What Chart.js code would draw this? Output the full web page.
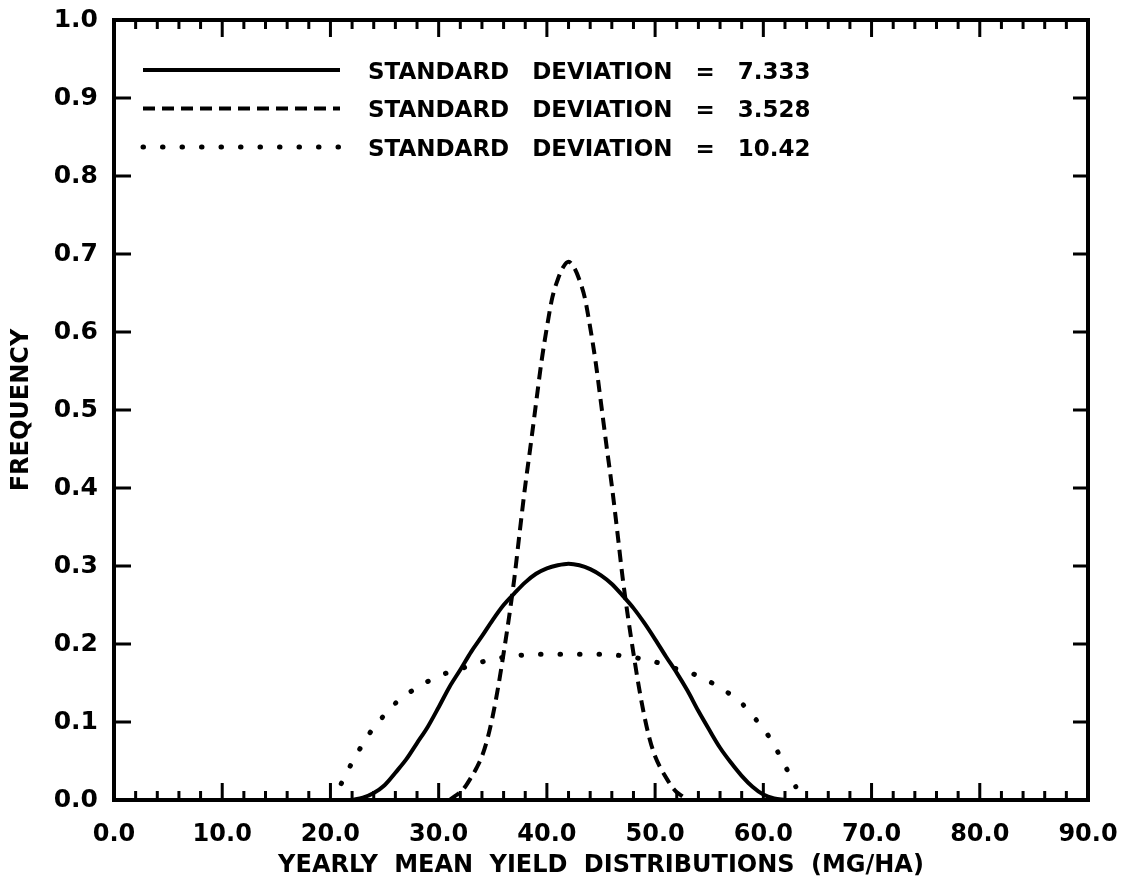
<!DOCTYPE html>
<html>
<head>
<meta charset="utf-8">
<title>Yearly mean yield distributions</title>
<script src="https://cdn.jsdelivr.net/npm/chart.js@4.4.1/dist/chart.umd.min.js"></script>
<style>
  html, body { margin: 0; padding: 0; background: #fff; }
  #wrap { width: 1126px; height: 886px; }
</style>
</head>
<body>
<div id="wrap"><canvas id="yieldChart" width="1126" height="886"></canvas></div>
<script>
// values (x = yield MG/HA, y = frequency)
const sdValues = ['7.333', '3.528', '10.42'];

const solidX = [22, 23, 24, 25, 26, 27, 28, 29, 30, 31, 32, 33, 34, 35, 36, 37, 38, 39, 40, 41,
  42, 43, 44, 45, 46, 47, 48, 49, 50, 51, 52, 53, 54, 55, 56, 57, 58, 59, 60, 61, 62];
const solidY = [0.000, 0.003, 0.009, 0.019, 0.035, 0.052, 0.073, 0.094, 0.119, 0.145, 0.167,
  0.190, 0.210, 0.231, 0.250, 0.265, 0.279, 0.290, 0.297, 0.301, 0.303, 0.301, 0.296, 0.288,
  0.277, 0.262, 0.246, 0.227, 0.206, 0.184, 0.163, 0.140, 0.114, 0.090, 0.067, 0.048, 0.031,
  0.017, 0.007, 0.002, 0.000];

const dashedX = [31, 31.5, 32, 32.5, 33, 33.5, 34, 34.5, 35, 35.5, 36, 36.5, 37, 37.5, 38, 38.5,
  39, 39.5, 40, 40.5, 41, 41.5, 42, 42.5, 43, 43.5, 44, 44.5, 45, 45.5, 46, 46.5, 47, 47.5, 48,
  48.5, 49, 49.5, 50, 50.5, 51, 51.5, 52, 52.5, 53];
const dashedY = [0.000, 0.005, 0.010, 0.018, 0.029, 0.041, 0.056, 0.078, 0.108, 0.145, 0.188,
  0.234, 0.285, 0.345, 0.403, 0.455, 0.509, 0.562, 0.606, 0.644, 0.667, 0.683, 0.690, 0.683,
  0.667, 0.644, 0.606, 0.562, 0.509, 0.455, 0.403, 0.345, 0.285, 0.234, 0.188, 0.145, 0.108,
  0.078, 0.056, 0.041, 0.029, 0.018, 0.010, 0.005, 0.000];

const dottedX = [21, 22, 23, 24, 25, 26, 27, 28, 29, 30, 31, 32, 33, 34, 35, 36, 37, 38, 39, 40,
  41, 42, 43, 44, 45, 46, 47, 48, 49, 50, 51, 52, 53, 54, 55, 56, 57, 58, 59, 60, 61, 62, 63];
const dottedY = [0.021, 0.048, 0.072, 0.093, 0.109, 0.124, 0.135, 0.144, 0.152, 0.159, 0.164,
  0.168, 0.173, 0.177, 0.180, 0.183, 0.185, 0.186, 0.187, 0.187, 0.187, 0.187, 0.187, 0.187,
  0.187, 0.186, 0.185, 0.183, 0.180, 0.177, 0.173, 0.168, 0.164, 0.159, 0.152, 0.144, 0.135,
  0.124, 0.108, 0.092, 0.070, 0.044, 0.017];

const xTickValues = [0, 10, 20, 30, 40, 50, 60, 70, 80, 90];
const xTickLabels = ['0.0', '10.0', '20.0', '30.0', '40.0', '50.0', '60.0', '70.0', '80.0', '90.0'];
const yTickValues = [0, 0.1, 0.2, 0.3, 0.4, 0.5, 0.6, 0.7, 0.8, 0.9, 1.0];
const yTickLabels = ['0.0', '0.1', '0.2', '0.3', '0.4', '0.5', '0.6', '0.7', '0.8', '0.9', '1.0'];
const xMinorStep = 2;

const FONT = '"DejaVu Sans", sans-serif';

function points(xs, ys) {
  return xs.map((x, i) => ({ x: x, y: ys[i] }));
}

// frame with inward ticks on all four sides
const framePlugin = {
  id: 'frame',
  beforeDraw(chart) {
    chart.ctx.wordSpacing = '8px';
  },
  afterDraw(chart) {
    const { ctx, chartArea: a, scales: { x, y } } = chart;
    ctx.save();
    ctx.strokeStyle = '#000';
    ctx.lineWidth = 4;
    ctx.strokeRect(a.left, a.top, a.right - a.left, a.bottom - a.top);
    ctx.lineWidth = 3;
    ctx.beginPath();
    for (let v = xMinorStep; v < x.max; v += xMinorStep) {
      const px = x.getPixelForValue(v);
      const len = v % 10 === 0 ? 17 : 9;
      ctx.moveTo(px, a.bottom); ctx.lineTo(px, a.bottom - len);
      ctx.moveTo(px, a.top); ctx.lineTo(px, a.top + len);
    }
    yTickValues.slice(1, -1).forEach(v => {
      const py = y.getPixelForValue(v);
      ctx.moveTo(a.left, py); ctx.lineTo(a.left + 17, py);
      ctx.moveTo(a.right, py); ctx.lineTo(a.right - 15, py);
    });
    ctx.stroke();
    ctx.restore();
  }
};

// legend drawn inside the plot, top left
const legendPlugin = {
  id: 'insideLegend',
  afterDraw(chart) {
    const ctx = chart.ctx;
    ctx.save();
    ctx.wordSpacing = '0px';
    ctx.font = 'bold 23px ' + FONT;
    ctx.fillStyle = '#000';
    ctx.textBaseline = 'alphabetic';
    chart.data.datasets.forEach((ds, i) => {
      const rowY = 70 + i * 38.5;
      ctx.strokeStyle = ds.borderColor;
      ctx.lineWidth = ds.borderWidth;
      ctx.lineCap = ds.borderCapStyle || 'butt';
      ctx.setLineDash(ds.borderDash || []);
      ctx.beginPath();
      ctx.moveTo(143, rowY);
      ctx.lineTo(340, rowY);
      ctx.stroke();
      ctx.setLineDash([]);
      let tx = 368;
      ds.label.split(' ').forEach(word => {
        ctx.fillText(word, tx, rowY + 8.5);
        tx += ctx.measureText(word).width + 23;
      });
    });
    ctx.restore();
  }
};

new Chart(document.getElementById('yieldChart'), {
  type: 'line',
  data: {
    datasets: [{
      label: 'STANDARD DEVIATION = ' + sdValues[0],
      data: points(solidX, solidY),
      borderColor: '#000',
      borderWidth: 4,
      borderDash: []
    }, {
      label: 'STANDARD DEVIATION = ' + sdValues[1],
      data: points(dashedX, dashedY),
      borderColor: '#000',
      borderWidth: 4,
      borderDash: [12, 7]
    }, {
      label: 'STANDARD DEVIATION = ' + sdValues[2],
      data: points(dottedX, dottedY),
      borderColor: '#000',
      borderWidth: 5,
      borderDash: [0.5, 19],
      borderCapStyle: 'round'
    }]
  },
  options: {
    responsive: false,
    animation: false,
    layout: { padding: { top: 20, right: 38, left: 0, bottom: 0 } },
    elements: {
      point: { radius: 0 },
      line: { cubicInterpolationMode: 'monotone', fill: false }
    },
    plugins: {
      legend: { display: false },
      tooltip: { enabled: false }
    },
    scales: {
      x: {
        type: 'linear',
        min: 0,
        max: 90,
        grid: { display: false },
        border: { display: false },
        afterBuildTicks: s => { s.ticks = xTickValues.map(v => ({ value: v })); },
        afterFit: s => { s.height = 86; s.paddingLeft = 0; s.paddingRight = 0; },
        ticks: {
          callback: (v, i) => xTickLabels[i],
          font: { family: FONT, size: 24, weight: 'bold' },
          color: '#000',
          padding: 12,
          maxRotation: 0,
          autoSkip: false
        },
        title: {
          display: true,
          text: 'YEARLY MEAN YIELD DISTRIBUTIONS (MG/HA)',
          font: { family: FONT, size: 24, weight: 'bold' },
          color: '#000',
          padding: { top: 6, bottom: 6 }
        }
      },
      y: {
        min: 0,
        max: 1,
        grid: { display: false },
        border: { display: false },
        afterBuildTicks: s => { s.ticks = yTickValues.map(v => ({ value: v })); },
        afterFit: s => { s.width = 114; s.paddingTop = 0; s.paddingBottom = 0; },
        ticks: {
          callback: (v, i) => yTickLabels[i],
          font: { family: FONT, size: 25, weight: 'bold' },
          color: '#000',
          padding: 8,
          autoSkip: false
        },
        title: {
          display: true,
          text: 'FREQUENCY',
          font: { family: FONT, size: 24, weight: 'bold' },
          color: '#000',
          padding: { top: 7, bottom: 7 }
        }
      }
    }
  },
  plugins: [framePlugin, legendPlugin]
});
</script>
</body>
</html>
